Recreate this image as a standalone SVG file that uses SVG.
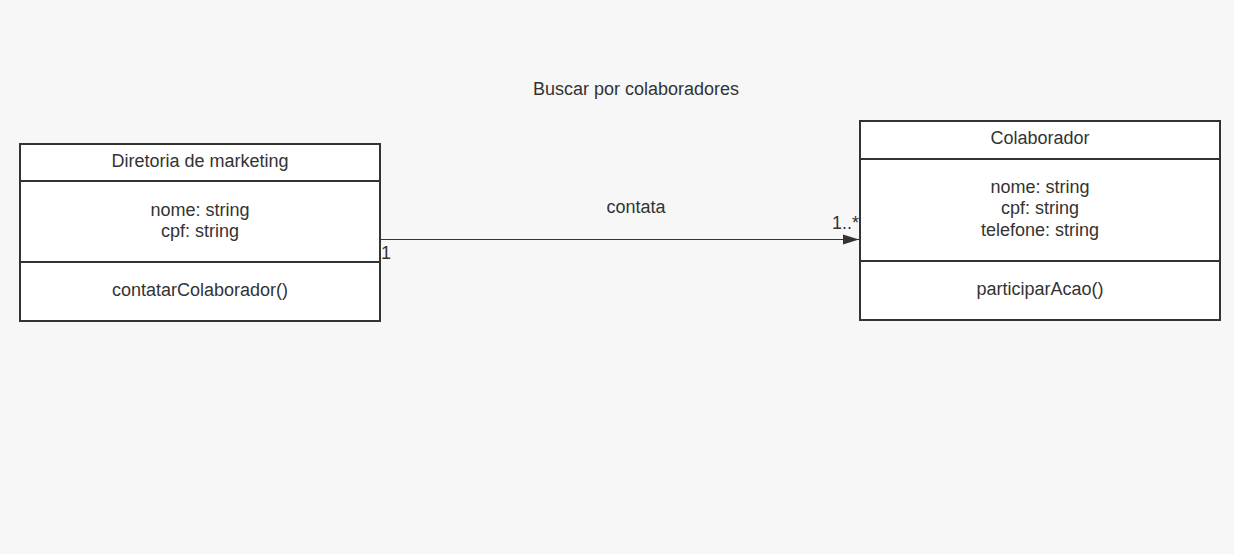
<svg xmlns="http://www.w3.org/2000/svg" width="1234" height="554" viewBox="0 0 1234 554">
<style>
text{font-family:"Liberation Sans",Arial,sans-serif;font-size:18px;fill:#333}
.c{text-anchor:middle}
.box{fill:#fff;stroke:#333;stroke-width:2}
.div{stroke:#333;stroke-width:2}
.edge{stroke:#333;stroke-width:1;fill:none}
</style>
<defs>
<marker id="arr" markerWidth="16" markerHeight="12" refX="16" refY="6" orient="auto" markerUnits="userSpaceOnUse">
<path d="M0,1 L16,6 L0,11 Z" fill="#333"/>
</marker>
</defs>
<rect width="1234" height="554" fill="#f7f7f7"/>
<text class="c" x="636" y="95">Buscar por colaboradores</text>
<g id="diretoria">
<rect class="box" x="20" y="144" width="360" height="177"/>
<line class="div" x1="20" y1="181" x2="380" y2="181"/>
<line class="div" x1="20" y1="262" x2="380" y2="262"/>
<text class="c" x="200" y="167">Diretoria de marketing</text>
<text class="c" x="200" y="216">nome: string</text>
<text class="c" x="200" y="237">cpf: string</text>
<text class="c" x="200" y="296">contatarColaborador()</text>
</g>
<g id="colaborador">
<rect class="box" x="860" y="121" width="360" height="199"/>
<line class="div" x1="860" y1="159" x2="1220" y2="159"/>
<line class="div" x1="860" y1="261" x2="1220" y2="261"/>
<text class="c" x="1040" y="144">Colaborador</text>
<text class="c" x="1040" y="193">nome: string</text>
<text class="c" x="1040" y="214">cpf: string</text>
<text class="c" x="1040" y="236">telefone: string</text>
<text class="c" x="1040" y="295">participarAcao()</text>
</g>
<g id="connectors">
<line class="edge" x1="381" y1="239.5" x2="859" y2="239.5" marker-end="url(#arr)"/>
<text class="c" x="636" y="213">contata</text>
<text x="381" y="259">1</text>
<text x="832" y="229">1..*</text>
</g>
</svg>
